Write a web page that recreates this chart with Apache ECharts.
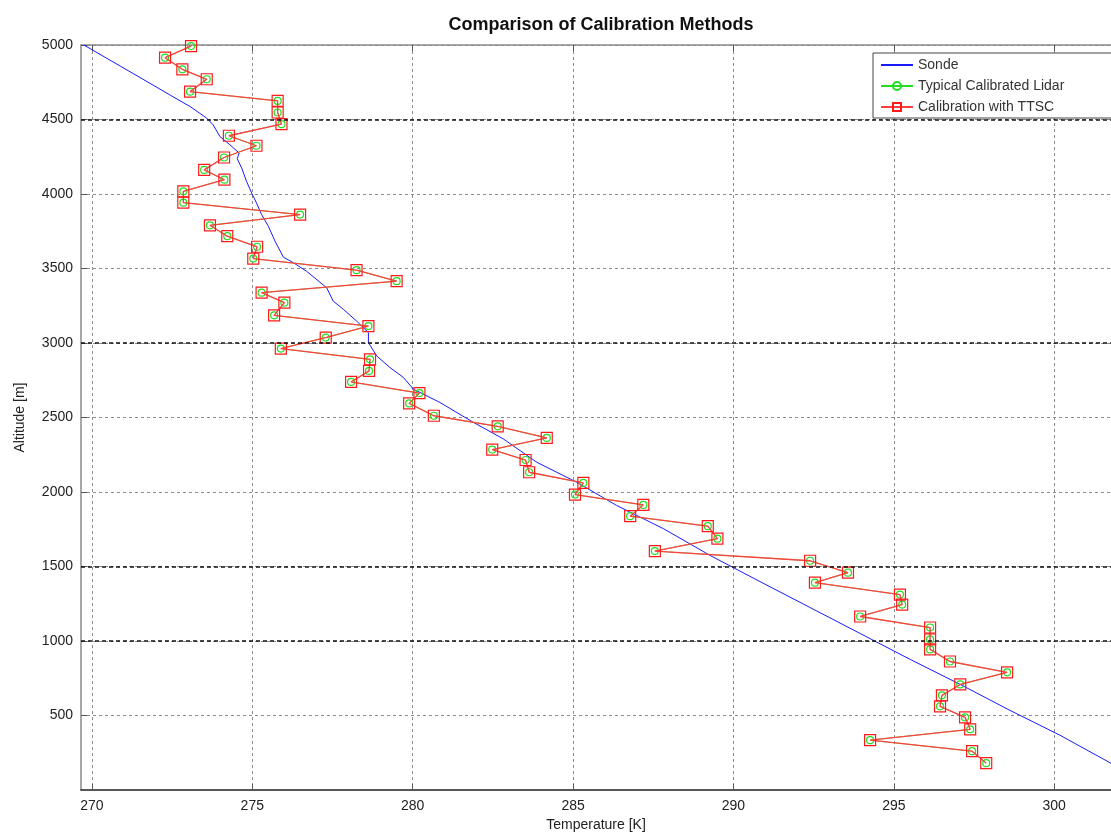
<!DOCTYPE html>
<html>
<head>
<meta charset="utf-8">
<title>Comparison of Calibration Methods</title>
<script src="https://cdn.jsdelivr.net/npm/echarts@6/dist/echarts.min.js"></script>
<style>
  html, body { margin: 0; padding: 0; background: #fff; }
  #chart { width: 1111px; height: 837px; }
</style>
</head>
<body>
<div id="chart"></div>
<script>
// Radiosonde temperature profile (K) against altitude (m)
const sondeTemp = [269.75, 271.81, 272.43, 273.06, 273.58, 273.78, 273.99, 274.30, 274.59, 274.53,
  274.67, 274.82, 274.98, 275.13, 275.29, 275.50, 275.71, 275.97, 276.28, 276.69,
  277.32, 277.52, 277.84, 278.25, 278.62, 278.62, 278.88, 279.29, 279.71, 280.02,
  280.85, 281.89, 282.83, 283.87, 285.11, 286.36, 287.82, 289.27, 290.83, 292.39,
  293.95, 295.51, 297.07, 298.62, 300.18, 301.77, 302.50];
const sondeAlt = [5000, 4743, 4665, 4587, 4509, 4464, 4386, 4331, 4275, 4237,
  4174, 4085, 4007, 3940, 3862, 3784, 3683, 3576, 3539, 3482,
  3371, 3282, 3226, 3148, 3070, 3003, 2913, 2836, 2769, 2691,
  2601, 2468, 2356, 2200, 2066, 1910, 1754, 1575, 1399, 1225,
  1051, 877, 709, 535, 368, 180, 110];

// Lidar retrieval altitudes (m)
const lidarAlt = [4993, 4915, 4837, 4770, 4687, 4625, 4547, 4469, 4391, 4324,
  4245, 4162, 4096, 4018, 3942, 3862, 3790, 3717, 3646, 3567,
  3489, 3415, 3338, 3271, 3186, 3114, 3037, 2963, 2891, 2813,
  2739, 2664, 2595, 2512, 2441, 2363, 2285, 2215, 2133, 2061,
  1983, 1914, 1838, 1771, 1687, 1604, 1539, 1459, 1392, 1312,
  1245, 1165, 1091, 1011, 944, 863, 790, 709, 636, 562,
  488, 408, 335, 261, 181];

// Typical calibrated lidar temperatures (K)
const typicalTemp = [273.09, 272.28, 272.82, 273.58, 273.06, 275.79, 275.79, 275.91, 274.27, 275.13,
  274.12, 273.50, 274.13, 272.85, 272.85, 276.49, 273.68, 274.22, 275.15, 275.03,
  278.25, 279.50, 275.29, 276.00, 275.68, 278.62, 277.29, 275.89, 278.67, 278.64,
  278.08, 280.21, 279.89, 280.66, 282.65, 284.18, 282.48, 283.52, 283.63, 285.32,
  285.06, 287.19, 286.78, 289.20, 289.50, 287.55, 292.39, 293.57, 292.54, 295.19,
  295.26, 293.95, 296.13, 296.13, 296.13, 296.75, 298.53, 297.07, 296.50, 296.44,
  297.22, 297.38, 294.26, 297.44, 297.88];

// Lidar temperatures calibrated with TTSC (K)
const ttscTemp = [273.09, 272.28, 272.82, 273.58, 273.06, 275.79, 275.79, 275.91, 274.27, 275.13,
  274.12, 273.50, 274.13, 272.85, 272.85, 276.49, 273.68, 274.22, 275.15, 275.03,
  278.25, 279.50, 275.29, 276.00, 275.68, 278.62, 277.29, 275.89, 278.67, 278.64,
  278.08, 280.21, 279.89, 280.66, 282.65, 284.18, 282.48, 283.52, 283.63, 285.32,
  285.06, 287.19, 286.78, 289.20, 289.50, 287.55, 292.39, 293.57, 292.54, 295.19,
  295.26, 293.95, 296.13, 296.13, 296.13, 296.75, 298.53, 297.07, 296.50, 296.44,
  297.22, 297.38, 294.26, 297.44, 297.88];

const tempTicks = [270, 275, 280, 285, 290, 295, 300];
const altTicks = [500, 1000, 1500, 2000, 2500, 3000, 3500, 4000, 4500, 5000];
const boldGridAlts = [4500, 3000, 1500, 1000];

const pairs = (xs, ys) => xs.map((x, i) => [x, ys[i]]);
const plain = v => String(v);

const FONT = '"Liberation Sans", Arial, sans-serif';
const gridDash = { type: [3, 3], color: '#8c8c8c', width: 1 };

const chart = echarts.init(document.getElementById('chart'), null, { renderer: 'canvas' });

chart.setOption({
  animation: false,
  backgroundColor: '#ffffff',
  title: {
    text: 'Comparison of Calibration Methods',
    left: 596, top: 11, textAlign: 'center',
    textStyle: { fontFamily: FONT, fontSize: 18, fontWeight: 'bold', color: '#111' }
  },
  legend: {
    orient: 'vertical',
    left: 873, top: 53,
    padding: [4, 60, 3, 7],
    itemWidth: 32, itemHeight: 10, itemGap: 5,
    backgroundColor: '#fff',
    borderColor: '#444', borderWidth: 1,
    textStyle: { fontFamily: FONT, fontSize: 14, color: '#333', lineHeight: 16 },
    data: [
      { name: 'Sonde', itemStyle: { opacity: 0 } },
      { name: 'Typical Calibrated Lidar' },
      { name: 'Calibration with TTSC' }
    ]
  },
  grid: { left: 81, right: 0, top: 45, bottom: 45, containLabel: false },
  xAxis: [{
    type: 'value',
    position: 'bottom',
    min: 269.66, max: 301.77,
    name: 'Temperature [K]',
    nameLocation: 'middle', nameGap: 26,
    nameTextStyle: { fontFamily: FONT, fontSize: 14, color: '#222' },
    axisLine: { show: true, onZero: false, lineStyle: { color: '#222', width: 1.5 } },
    axisTick: { show: true, inside: true, length: 6, customValues: tempTicks, lineStyle: { color: '#555' } },
    axisLabel: { customValues: tempTicks, formatter: plain, margin: 9, fontFamily: FONT, fontSize: 14, color: '#222' },
    splitLine: { show: true, lineStyle: gridDash }
  }, {
    type: 'value',
    position: 'top',
    min: 269.66, max: 301.77,
    axisLine: { show: true, onZero: false, lineStyle: { color: '#8a8a8a', width: 1.5 } },
    axisTick: { show: true, inside: true, length: 6, customValues: tempTicks, lineStyle: { color: '#555' } },
    axisLabel: { show: false },
    splitLine: { show: false }
  }],
  yAxis: {
    type: 'value',
    min: 0, max: 5000,
    name: 'Altitude [m]',
    nameLocation: 'middle', nameGap: 54, nameRotate: 90,
    nameTextStyle: { fontFamily: FONT, fontSize: 14, color: '#222' },
    axisLine: { show: true, onZero: false, lineStyle: { color: '#8a8a8a', width: 1.5 } },
    axisTick: { show: true, inside: true, length: 6, customValues: altTicks, lineStyle: { color: '#555' } },
    axisLabel: { customValues: altTicks, formatter: plain, margin: 8, fontFamily: FONT, fontSize: 14, color: '#222' },
    splitLine: { show: true, lineStyle: gridDash }
  },
  series: [{
    name: 'Sonde',
    type: 'line',
    xAxisIndex: 0,
    data: pairs(sondeTemp, sondeAlt),
    showSymbol: false, symbol: 'none',
    lineStyle: { color: '#1a1aff', width: 1 },
    itemStyle: { color: '#1a1aff' },
    clip: true,
    z: 2,
    markLine: {
      silent: true, symbol: 'none',
      label: { show: false },
      lineStyle: { type: [4, 3], color: '#111', width: 1.6 },
      data: boldGridAlts.map(a => ({ yAxis: a }))
    }
  }, {
    name: 'Typical Calibrated Lidar',
    type: 'line',
    xAxisIndex: 0,
    data: pairs(typicalTemp, lidarAlt),
    symbol: 'circle', symbolSize: 7,
    lineStyle: { color: '#22dd22', width: 0.8 },
    itemStyle: { color: 'rgba(0,0,0,0)', borderColor: '#22dd22', borderWidth: 1.2 },
    z: 3
  }, {
    name: 'Calibration with TTSC',
    type: 'line',
    xAxisIndex: 0,
    data: pairs(ttscTemp, lidarAlt),
    symbol: 'rect', symbolSize: 11,
    lineStyle: { color: '#ff4040', width: 1.3 },
    itemStyle: { color: 'rgba(0,0,0,0)', borderColor: '#ff1a1a', borderWidth: 1.2 },
    z: 4
  }]
});
</script>
</body>
</html>
